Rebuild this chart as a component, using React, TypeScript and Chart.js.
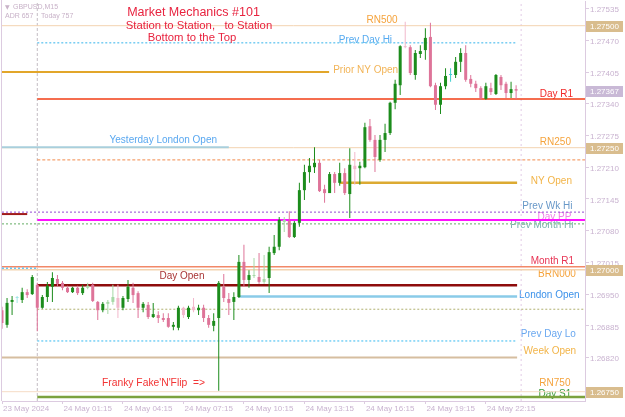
import React, { useEffect, useRef } from 'react';
import { Chart, registerables } from 'chart.js';

Chart.register(...registerables);

// ---- data -------------------------------------------------------------
// bar index 0 = 24 May 00:00 (M15 bars); first bar = 23 May 22:15
const firstBar = -7;

const open = [
  1.26917, 1.26887, 1.26934, 1.26942, 1.26938, 1.26954, 1.2695,
  1.26969, 1.26922, 1.26944, 1.26965, 1.26981, 1.26973, 1.26963, 1.26954, 1.26963, 1.26952,
  1.26963, 1.26969, 1.26934, 1.26917, 1.2693, 1.26934, 1.26942, 1.26922, 1.2694, 1.26963,
  1.26952, 1.26922, 1.26928, 1.26903, 1.26907, 1.26901, 1.26901, 1.26883, 1.26881, 1.26922,
  1.26903, 1.26924, 1.26917, 1.26922, 1.26901, 1.26885, 1.26901, 1.26965, 1.2694, 1.26934,
  1.26944, 1.27016, 1.26979, 1.26987, 1.26985, 1.26975, 1.26983, 1.27034, 1.27047, 1.27098,
  1.271, 1.27067, 1.27096, 1.27163, 1.272, 1.2721, 1.27219, 1.27165, 1.27157, 1.27196,
  1.27178, 1.27198, 1.27155, 1.27213, 1.27208, 1.2721, 1.27294, 1.27266, 1.27225, 1.27266,
  1.2728, 1.27342, 1.27378, 1.27458, 1.27456, 1.27399, 1.27442, 1.2745, 1.27477, 1.27378,
  1.27338, 1.27376, 1.27399, 1.27399, 1.27426, 1.27444, 1.27391, 1.27381, 1.27372, 1.2735,
  1.27372, 1.2736, 1.27395, 1.27381, 1.27362, 1.2737,
];
const high = [
  1.26924, 1.26942, 1.26946, 1.26946, 1.26963, 1.2696, 1.26989,
  1.26973, 1.26948, 1.26975, 1.26995, 1.26989, 1.26977, 1.26967, 1.26965, 1.26967, 1.26969,
  1.26973, 1.26973, 1.26936, 1.26934, 1.26938, 1.26969, 1.26969, 1.26946, 1.26979, 1.26973,
  1.26956, 1.26934, 1.26934, 1.26932, 1.26915, 1.26911, 1.26911, 1.26893, 1.26926, 1.26924,
  1.26926, 1.26942, 1.26928, 1.26928, 1.26907, 1.26911, 1.26977, 1.26991, 1.26952, 1.26954,
  1.2703, 1.27051, 1.26999, 1.27024, 1.27034, 1.2703, 1.27047, 1.27071, 1.27108, 1.27108,
  1.2712, 1.271, 1.27178, 1.27215, 1.27229, 1.27251, 1.27225, 1.27174, 1.272, 1.272,
  1.27219, 1.27208, 1.27249, 1.27241, 1.27221, 1.27301, 1.27309, 1.27276, 1.27276, 1.27299,
  1.27344, 1.27389, 1.2746, 1.27508, 1.2746, 1.2745, 1.2746, 1.27495, 1.27506, 1.27383,
  1.27383, 1.27413, 1.27413, 1.27436, 1.27454, 1.2746, 1.27399, 1.27387, 1.27376, 1.27383,
  1.27383, 1.27401, 1.27399, 1.27385, 1.27385, 1.27378,
];
const low = [
  1.26879, 1.26881, 1.26907, 1.26932, 1.26932, 1.26942, 1.26948,
  1.26874, 1.2692, 1.26934, 1.26934, 1.26965, 1.26958, 1.26952, 1.26952, 1.26948, 1.26948,
  1.2696, 1.26934, 1.26897, 1.26913, 1.26909, 1.26928, 1.26901, 1.26917, 1.26934, 1.26932,
  1.26901, 1.26913, 1.26899, 1.26901, 1.26891, 1.26893, 1.26881, 1.26876, 1.26876, 1.26901,
  1.26899, 1.26913, 1.26907, 1.26893, 1.26881, 1.26874, 1.26752, 1.26934, 1.26907, 1.26897,
  1.26942, 1.26965, 1.26963, 1.26983, 1.26971, 1.26971, 1.26952, 1.2703, 1.2704, 1.27077,
  1.27065, 1.27065, 1.27088, 1.27143, 1.27178, 1.27198, 1.27159, 1.27137, 1.27157, 1.27157,
  1.27172, 1.27153, 1.27106, 1.27174, 1.27174, 1.27208, 1.27262, 1.272, 1.27221, 1.27241,
  1.27276, 1.27329, 1.27358, 1.27454, 1.27399, 1.27389, 1.27434, 1.2743, 1.27374, 1.27327,
  1.27319, 1.2737, 1.27385, 1.27393, 1.27405, 1.27385, 1.27374, 1.27364, 1.27348, 1.27348,
  1.27358, 1.27358, 1.27368, 1.27352, 1.27352, 1.2735,
];
const close = [
  1.26891, 1.26932, 1.26938, 1.26942, 1.26954, 1.26948, 1.26985,
  1.26922, 1.26944, 1.26967, 1.26983, 1.26971, 1.26963, 1.26954, 1.26963, 1.26952, 1.26963,
  1.26967, 1.26936, 1.26917, 1.2693, 1.26934, 1.26944, 1.26922, 1.26942, 1.26965, 1.26948,
  1.26922, 1.2693, 1.26903, 1.26909, 1.26901, 1.26897, 1.26883, 1.26887, 1.26922, 1.26907,
  1.26922, 1.26917, 1.26922, 1.26901, 1.26887, 1.26895, 1.26973, 1.26942, 1.26932, 1.26944,
  1.27016, 1.26979, 1.26989, 1.26989, 1.26975, 1.26981, 1.27036, 1.27047, 1.27102, 1.27102,
  1.27067, 1.27096, 1.27163, 1.272, 1.27213, 1.27219, 1.27161, 1.27157, 1.27196, 1.27178,
  1.27198, 1.27157, 1.27215, 1.27206, 1.27213, 1.27292, 1.27266, 1.27231, 1.27266, 1.2728,
  1.27342, 1.27381, 1.27458, 1.27456, 1.27403, 1.27444, 1.27448, 1.27475, 1.27376, 1.27338,
  1.27376, 1.27397, 1.27399, 1.27426, 1.27444, 1.27389, 1.27381, 1.27372, 1.27352, 1.27376,
  1.27364, 1.27399, 1.27378, 1.27362, 1.2737, 1.27367,
];
// bars drawn in pale colours on the reference
const fadedBars = [-4, 10, 14, 15, 16, 29, 31, 43, 45, 49, 63, 73];

const timeTickBars = [-7, 5, 17, 29, 41, 53, 65, 77, 89];
const timeTickLabels = [
  '23 May 2024', '24 May 01:15', '24 May 04:15', '24 May 07:15', '24 May 10:15',
  '24 May 13:15', '24 May 16:15', '24 May 19:15', '24 May 22:15',
];
const priceTicks = [
  1.26755, 1.2682, 1.26885, 1.2695, 1.27015, 1.2708, 1.27145,
  1.2721, 1.27275, 1.2734, 1.27405, 1.2747, 1.27535,
];
const tagPrices = [1.275, 1.27367, 1.2725, 1.27, 1.2675];

const levelNames = [
  'RN500', 'RN250', 'BRN000', 'RN750',
  'Prev Day Hi', 'Prior NY Open', 'Day R1', 'Yesterday London Open', 'Day M3',
  'NY Open', 'Prev Wk Hi', 'Prev Day Open', 'Prev Month Hi', 'Day PP', 'Month R1',
  'Old Day Lo', 'Day Open', 'London Open', 'Day M2', 'Prev Day Lo', 'Week Open', 'Day S1',
];
const levelPrices = [
  1.275, 1.2725, 1.27, 1.2675,
  1.27465, 1.27405, 1.2735, 1.27251, 1.27225,
  1.27178, 1.27118, 1.27114, 1.27094, 1.27102, 1.27006,
  1.27003, 1.26968, 1.26945, 1.26919, 1.26854, 1.2682, 1.26739,
];

// ---- layout / style ------------------------------------------------------
const X_MIN = -7;
const X_MAX = 108.67;
const Y_MIN = 1.2673094;
const Y_MAX = 1.2755061;
const FONT = '"Liberation Sans", Arial, sans-serif';

type LevelStyle = {
  color: string; width: number; dash?: number[];
  from: number | 'L'; to: number | 'R';
  label?: string; labelColor?: string; lx?: number; dy?: number; align?: CanvasTextAlign;
};
const RN_LINE = '#f3d3b0';
const RN_TEXT = '#f5a33c';
const levelStyle: Record<string, LevelStyle> = {
  'RN500': { color: RN_LINE, width: 1, from: 'L', to: 'R', label: 'RN500', labelColor: RN_TEXT, lx: 68.4, dy: -5 },
  'RN250': { color: RN_LINE, width: 1, from: 'L', to: 'R', label: 'RN250', labelColor: RN_TEXT, lx: 102.8, dy: -5.6 },
  'BRN000': { color: RN_LINE, width: 1.5, from: 'L', to: 'R', label: 'BRN000', labelColor: RN_TEXT, lx: 103.1, dy: 5 },
  'RN750': { color: '#f6dcc6', width: 1, from: 'L', to: 'R', label: 'RN750', labelColor: RN_TEXT, lx: 102.7, dy: -8 },
  'Prev Day Hi': { color: '#78cdf2', width: 1.5, dash: [2, 2], from: 0, to: 95.2, label: 'Prev Day Hi', labelColor: '#55aaf0', lx: 65.1, dy: -3 },
  'Prior NY Open': { color: '#e2a62a', width: 2, from: 'L', to: 57.9, label: 'Prior NY Open', labelColor: '#f2b457', lx: 58.7, dy: -1.5, align: 'left' },
  'Day R1': { color: '#f23c14', width: 1.5, from: 0, to: 'R', label: 'Day R1', labelColor: '#f02828', lx: 103, dy: -4.5 },
  'Yesterday London Open': { color: '#a9cfdc', width: 2, from: 'L', to: 38, label: 'Yesterday London Open', labelColor: '#5aa8f0', lx: 25, dy: -7 },
  'Day M3': { color: '#f28a4a', width: 1, dash: [3, 2], from: 0, to: 'R' },
  'NY Open': { color: '#dcaa32', width: 2.5, from: 60, to: 95.2, label: 'NY Open', labelColor: '#f2b448', lx: 102, dy: -2 },
  'Prev Wk Hi': { color: '#9448d4', width: 1, dash: [2, 2], from: 'L', to: 'R', label: 'Prev Wk Hi', labelColor: '#6898c8', lx: 101.2, dy: -6 },
  'Prev Day Open': { color: '#a01a1a', width: 2, from: 'L', to: -2 },
  'Prev Month Hi': { color: '#98c898', width: 1.5, dash: [2, 2], from: 'L', to: 'R', label: 'Prev Month Hi', labelColor: '#78b0b0', lx: 100.1, dy: 1 },
  'Day PP': { color: '#ff10ff', width: 2, from: 0, to: 'R', label: 'Day PP', labelColor: '#f07ee8', lx: 102.6, dy: -2.5 },
  'Month R1': { color: '#f28868', width: 1.5, from: 'L', to: 'R', label: 'Month R1', labelColor: '#e83454', lx: 102.2, dy: -6 },
  'Old Day Lo': { color: '#66c8f2', width: 1.5, dash: [2, 2], from: 'L', to: 0 },
  'Day Open': { color: '#8e0c0c', width: 2.5, from: 0, to: 95.2, label: 'Day Open', labelColor: '#a83434', lx: 28.7, dy: -9 },
  'London Open': { color: '#8acbe8', width: 2.5, from: 40, to: 95.2, label: 'London Open', labelColor: '#3c92ea', lx: 101.6, dy: -1 },
  'Day M2': { color: '#b0b070', width: 1, dash: [2, 2], from: 0, to: 'R' },
  'Prev Day Lo': { color: '#78d0f5', width: 1.5, dash: [2, 2], from: 0, to: 95.2, label: 'Prev Day Lo', labelColor: '#6aa8f0', lx: 101.4, dy: -6.5 },
  'Week Open': { color: '#d6bea0', width: 2, from: 'L', to: 95.2, label: 'Week Open', labelColor: '#f2b448', lx: 101.7, dy: -6 },
  'Day S1': { color: '#7ca23e', width: 2.5, from: 0, to: 'R', label: 'Day S1', labelColor: '#3a9a3a', lx: 102.7, dy: -3 },
};

const BULL = '#1c8c1c';
const BEAR = '#de7499';
const DOJI = '#40d0d0';
const BULL_FADED = '#a6d8a6';
const BEAR_FADED = '#f2b8cc';
const DOJI_FADED = '#9fe6e6';
const AXIS_TEXT = '#c9b3d0';
const FRAME = '#dccbe0';

function barColor(i: number): string {
  const k = firstBar + i;
  const faded = fadedBars.includes(k);
  if (close[i] > open[i]) return faded ? BULL_FADED : BULL;
  if (close[i] < open[i]) return faded ? BEAR_FADED : BEAR;
  return faded ? DOJI_FADED : DOJI;
}

const overlayPlugin = {
  id: 'overlay',
  beforeDatasetsDraw(chart: any) {
    const { ctx, scales } = chart;
    const x = scales.x;
    const y = scales.y;
    ctx.save();
    ctx.font = `10px ${FONT}`;
    ctx.textBaseline = 'middle';
    levelNames.forEach((name, i) => {
      const s = levelStyle[name];
      if (!s.label) return;
      ctx.fillStyle = s.labelColor;
      ctx.textAlign = s.align || 'center';
      ctx.fillText(s.label, x.getPixelForValue(s.lx), y.getPixelForValue(levelPrices[i]) + (s.dy || 0));
    });
    ctx.restore();
  },
  afterDraw(chart: any) {
    const { ctx, chartArea, scales } = chart;
    const y = scales.y;
    ctx.save();
    // left frame
    ctx.strokeStyle = FRAME;
    ctx.lineWidth = 1;
    ctx.beginPath();
    ctx.moveTo(chartArea.left - 0.5, 0);
    ctx.lineTo(chartArea.left - 0.5, chartArea.bottom);
    ctx.stroke();

    // header
    ctx.fillStyle = '#c8b2c8';
    ctx.textBaseline = 'middle';
    ctx.textAlign = 'left';
    ctx.font = `6px "DejaVu Sans", sans-serif`;
    ctx.fillText('▼', 5, 7);
    ctx.font = `7px ${FONT}`;
    ctx.fillText('GBPUSD,M15', 13, 7);
    ctx.fillText('ADR 657', 5, 16);
    ctx.fillText('Today 757', 41, 16);

    // titles
    ctx.fillStyle = '#e8233f';
    ctx.textAlign = 'center';
    ctx.font = `12.5px ${FONT}`;
    ctx.fillText('Market Mechanics #101', 193.5, 13);
    ctx.font = `11.3px ${FONT}`;
    ctx.fillText('Station to Station,   to Station', 199, 26);
    ctx.fillText('Bottom to the Top', 192, 37.5);
    ctx.fillStyle = '#f23434';
    ctx.font = `10.3px ${FONT}`;
    ctx.fillText("Franky Fake'N'Flip  =>", 153.5, 383.5);

    // price tags
    ctx.font = `8px ${FONT}`;
    ctx.textAlign = 'left';
    tagPrices.forEach((p) => {
      const py = y.getPixelForValue(p) + 1;
      ctx.fillStyle = Math.abs(p - close[close.length - 1]) < 1e-7 ? '#c9b9d6' : '#d9bd8e';
      ctx.fillRect(586, Math.round(py - 5.5), 37, 11);
      ctx.fillStyle = '#ffffff';
      ctx.fillText(p.toFixed(5), 590, py + 0.5);
    });
    ctx.restore();
  },
};

export default function App() {
  const ref = useRef<HTMLCanvasElement | null>(null);

  useEffect(() => {
    document.body.style.margin = '0';
    const canvas = ref.current;
    if (!canvas) return;

    const bars = open.map((_, i) => firstBar + i);
    const colors = open.map((_, i) => barColor(i));

    const levelDatasets = levelNames.map((name, i) => {
      const s = levelStyle[name];
      const from = s.from === 'L' ? X_MIN : s.from;
      const to = s.to === 'R' ? X_MAX : s.to;
      return {
        type: 'line' as const,
        data: [{ x: from, y: levelPrices[i] }, { x: to, y: levelPrices[i] }],
        borderColor: s.color,
        borderWidth: s.width,
        borderDash: s.dash || [],
        borderCapStyle: 'butt' as const,
        pointRadius: 0,
        fill: false,
        tension: 0,
        order: 100 - i,
      };
    });

    const separators = [
      { type: 'line' as const, data: [{ x: 0, y: Y_MIN }, { x: 0, y: Y_MAX }], borderColor: '#c4bcc4', borderWidth: 1, borderDash: [3, 2], pointRadius: 0, fill: false, order: 300 },
      { type: 'line' as const, data: [{ x: 96, y: Y_MIN }, { x: 96, y: Y_MAX }], borderColor: '#e2cbe6', borderWidth: 1, borderDash: [2, 3], pointRadius: 0, fill: false, order: 301 },
    ];

    const chart = new Chart(canvas, {
      type: 'bar',
      data: {
        datasets: [
          {
            type: 'bar',
            data: bars.map((k, i) => ({ x: k, y: [open[i], close[i]] })) as any,
            backgroundColor: colors,
            borderWidth: 0,
            barThickness: 3,
            grouped: false,
            minBarLength: 1,
            inflateAmount: 0,
            order: 0,
          } as any,
          {
            type: 'bar',
            data: bars.map((k, i) => ({ x: k, y: [low[i], high[i]] })) as any,
            backgroundColor: colors,
            borderWidth: 0,
            barThickness: 1,
            grouped: false,
            inflateAmount: 0,
            order: 1,
          } as any,
          ...levelDatasets,
          ...separators,
        ] as any,
      },
      options: {
        responsive: false,
        animation: false,
        devicePixelRatio: 1,
        events: [],
        layout: { padding: { left: 2, top: 1, right: 0, bottom: 0 } },
        plugins: { legend: { display: false }, tooltip: { enabled: false } },
        scales: {
          x: {
            type: 'linear',
            min: X_MIN,
            max: X_MAX,
            offset: false,
            afterFit: (s: any) => {
              s.height = 16;
              s.paddingLeft = 0; s.paddingRight = 0; s.paddingTop = 0; s.paddingBottom = 0;
            },
            afterBuildTicks: (s: any) => { s.ticks = timeTickBars.map((v) => ({ value: v })); },
            grid: { drawOnChartArea: false, drawTicks: true, tickLength: 3, color: FRAME, offset: false },
            border: { display: true, color: FRAME },
            ticks: {
              autoSkip: false,
              maxRotation: 0,
              align: 'start',
              labelOffset: 1,
              padding: 0,
              color: AXIS_TEXT,
              font: { family: FONT, size: 8 },
              callback: (v: any) => {
                const idx = timeTickBars.indexOf(Number(v));
                return idx >= 0 ? timeTickLabels[idx] : '';
              },
            },
          },
          y: {
            type: 'linear',
            position: 'right',
            min: Y_MIN,
            max: Y_MAX,
            beginAtZero: false,
            afterFit: (s: any) => {
              s.width = 40;
              s.paddingLeft = 0; s.paddingRight = 0; s.paddingTop = 0; s.paddingBottom = 0;
            },
            afterBuildTicks: (s: any) => { s.ticks = priceTicks.map((v) => ({ value: v })); },
            grid: { drawOnChartArea: false, drawTicks: true, tickLength: 4, color: FRAME },
            border: { display: true, color: FRAME },
            ticks: {
              autoSkip: false,
              padding: 1,
              labelOffset: 1.5,
              color: AXIS_TEXT,
              font: { family: FONT, size: 8 },
              callback: (v: any) => Number(v).toFixed(5),
            },
          },
        },
      } as any,
      plugins: [overlayPlugin],
    });

    return () => chart.destroy();
  }, []);

  return <canvas ref={ref} width={625} height={417} style={{ display: 'block' }} />;
}
